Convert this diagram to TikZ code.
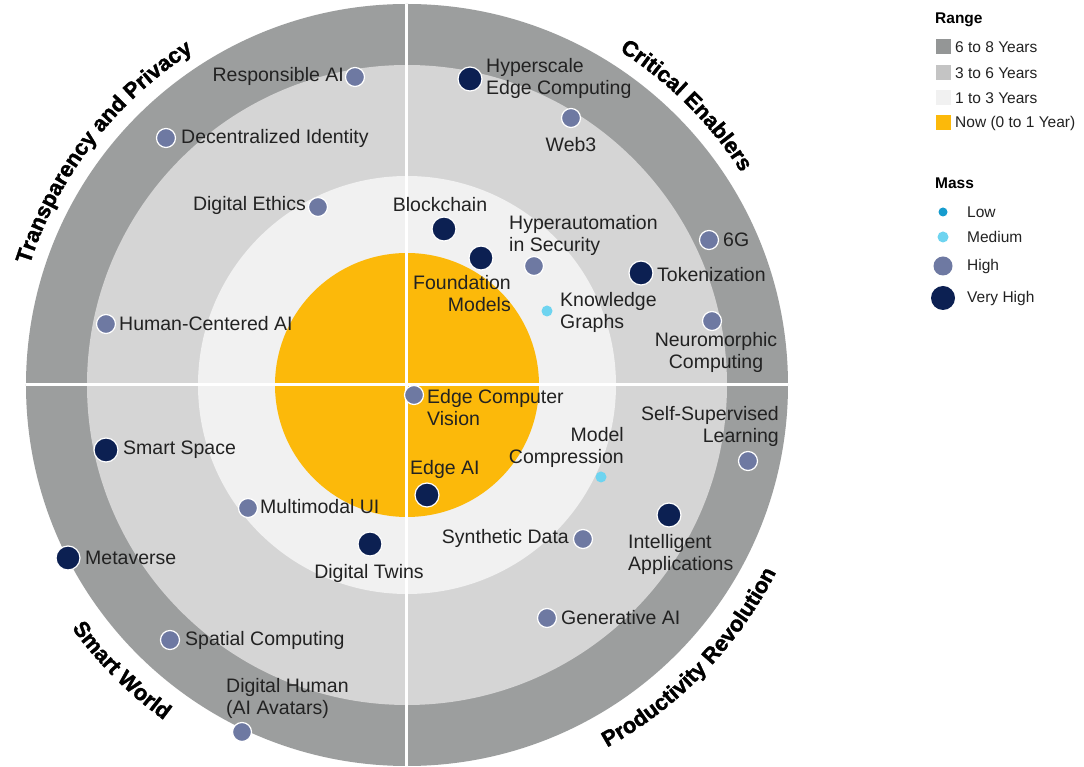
\documentclass[tikz,border=0pt]{standalone}
\usepackage{fontspec}
\setmainfont{Liberation Sans}
\newfontfamily\heavyfont[FakeBold=1.6]{Liberation Sans Bold}
\usetikzlibrary{decorations.text}

% ring and marker colours
\definecolor{ringfar}{RGB}{156,158,158}
\definecolor{ringmid}{RGB}{213,213,213}
\definecolor{ringnear}{RGB}{241,241,241}
\definecolor{ringnow}{RGB}{252,185,10}
\definecolor{massvh}{RGB}{12,32,82}
\definecolor{masshigh}{RGB}{110,121,162}
\definecolor{massmed}{RGB}{110,212,240}
\definecolor{masslow}{RGB}{22,156,206}
\definecolor{labeltext}{RGB}{34,34,34}

\newcommand{\titlefont}{\fontsize{22}{22}\selectfont\heavyfont}

\begin{document}
\begin{tikzpicture}[x=1pt,y=1pt,
  dot/.style={circle, inner sep=0pt, draw=white, line width=1.2pt},
  vhigh/.style={dot, fill=massvh, minimum size=24pt},
  high/.style={dot, fill=masshigh, minimum size=19pt},
  medium/.style={dot, fill=massmed, minimum size=11pt, draw=none},
  low/.style={dot, fill=masslow, minimum size=9pt, draw=none},
  lbl/.style={font=\fontsize{19.5}{22}\selectfont, text=labeltext, inner sep=0pt},
  legtext/.style={font=\fontsize{15.5}{18}\selectfont, text=labeltext, inner sep=0pt, anchor=west},
  leghead/.style={font=\fontsize{15.5}{18}\selectfont\bfseries, text=black, inner sep=0pt, anchor=west},
  swatch/.style={minimum size=15pt, inner sep=0pt},
  ringtitle/.style={decorate, decoration={text along path, text align=center, text color=black}}
]
\useasboundingbox (-407,-382) rectangle (677,385);
\fill[white] (-407,-382) rectangle (677,385);

% time horizon rings
\fill[ringfar]  (0,0) circle (381);
\fill[ringmid]  (0,0) circle (320);
\fill[ringnear] (0,0) circle (209);
\fill[ringnow]  (0,0) circle (132);

% quadrant dividers
\draw[white, line width=3pt] (-381,0) -- (381,0);
\draw[white, line width=3pt] (0,-381) -- (0,381);

% quadrant titles along the rim
\path[ringtitle, decoration={text={|\titlefont|Transparency and Privacy}}]
  (170:396) arc[start angle=170, end angle=115, radius=396];
\path[ringtitle, decoration={text={|\titlefont|Critical Enablers}}]
  (72:396) arc[start angle=72, end angle=18, radius=396];
\path[ringtitle, decoration={text={|\titlefont|Smart World}}]
  (198:414) arc[start angle=198, end angle=252, radius=414];
\path[ringtitle, decoration={text={|\titlefont|Productivity Revolution}}]
  (-72:414) arc[start angle=-72, end angle=-16, radius=414];

% Transparency and Privacy
\node[high] (respai) at (-52,308) {};
\node[lbl, anchor=east] (respailbl) at (-63,309) {Responsible AI};
\node[high] (decid) at (-241,247) {};
\node[lbl, anchor=west] (decidlbl) at (-226,247) {Decentralized Identity};
\node[high] (ethics) at (-89,178) {};
\node[lbl, anchor=east] (ethicslbl) at (-101,180) {Digital Ethics};
\node[high] (hcai) at (-301,61) {};
\node[lbl, anchor=west] (hcailbl) at (-288,61) {Human-Centered AI};

% Critical Enablers
\node[vhigh] (hyper) at (63,306) {};
\node[lbl, anchor=west, align=left] (hyperlbl) at (79,307) {Hyperscale\\Edge Computing};
\node[high] (web3) at (164,267) {};
\node[lbl] (web3lbl) at (164,240) {Web3};
\node[lbl] (blocklbl) at (33,180) {Blockchain};
\node[vhigh] (block) at (37,156) {};
\node[lbl, anchor=west, align=left] (hyperauto) at (102,150) {Hyperautomation\\in Security};
\node[high] (hyperautodot) at (127,119) {};
\node[vhigh] (found) at (74,127) {};
\node[lbl, anchor=east, align=right] (foundlbl) at (104,91) {Foundation\\Models};
\node[medium] (know) at (140,74) {};
\node[lbl, anchor=west, align=left] (knowlbl) at (153,73) {Knowledge\\Graphs};
\node[high] (sixg) at (302,145) {};
\node[lbl, anchor=west] (sixglbl) at (316,145) {6G};
\node[vhigh] (token) at (234,112) {};
\node[lbl, anchor=west] (tokenlbl) at (250,110) {Tokenization};
\node[high] (neuro) at (305,64) {};
\node[lbl, align=center] (neurolbl) at (309,33) {Neuromorphic\\Computing};

% Smart World
\node[vhigh] (space) at (-301,-65) {};
\node[lbl, anchor=west] (spacelbl) at (-284,-65) {Smart Space};
\node[high] (mmui) at (-159,-123) {};
\node[lbl, anchor=west] (mmuilbl) at (-147,-122) {Multimodal UI};
\node[vhigh] (meta) at (-339,-173) {};
\node[lbl, anchor=west] (metalbl) at (-322,-173) {Metaverse};
\node[vhigh] (twins) at (-37,-159) {};
\node[lbl] (twinslbl) at (-38,-188) {Digital Twins};
\node[high] (spatial) at (-237,-255) {};
\node[lbl, anchor=west] (spatiallbl) at (-222,-255) {Spatial Computing};
\node[lbl, anchor=west, align=left] (humanlbl) at (-181,-313) {Digital Human\\(AI Avatars)};
\node[high] (human) at (-165,-347) {};

% Productivity Revolution
\node[high] (ecv) at (7,-10) {};
\node[lbl, anchor=west, align=left] (ecvlbl) at (20,-23) {Edge Computer\\Vision};
\node[lbl, anchor=east, align=right] (complbl) at (217,-62) {Model\\Compression};
\node[medium] (comp) at (194,-92) {};
\node[lbl, anchor=west] (edgeailbl) at (3,-84) {Edge AI};
\node[vhigh] (edgeai) at (20,-110) {};
\node[lbl, anchor=east, align=right] (ssllbl) at (372,-41) {Self-Supervised\\Learning};
\node[high] (ssl) at (341,-76) {};
\node[high] (synth) at (176,-154) {};
\node[lbl, anchor=east] (synthlbl) at (162,-153) {Synthetic Data};
\node[vhigh] (intapp) at (262,-130) {};
\node[lbl, anchor=west, align=left] (intapplbl) at (221,-169) {Intelligent\\Applications};
\node[high] (genai) at (140,-233) {};
\node[lbl, anchor=west] (genailbl) at (154,-233) {Generative AI};

% legend: range
\node[leghead] (rangehead) at (528,365) {Range};
\node[swatch, fill=ringfar!95!black] (sw1) at (536,338) {};
\node[legtext] (sw1lbl) at (548,338) {6 to 8 Years};
\node[swatch, fill=ringmid!92!black] (sw2) at (536,312) {};
\node[legtext] (sw2lbl) at (548,312) {3 to 6 Years};
\node[swatch, fill=ringnear] (sw3) at (536,287) {};
\node[legtext] (sw3lbl) at (548,287) {1 to 3 Years};
\node[swatch, fill=ringnow] (sw4) at (536,262) {};
\node[legtext] (sw4lbl) at (548,262) {Now (0 to 1 Year)};

% legend: mass
\node[leghead] (masshead) at (528,202) {Mass};
\node[low, draw=none] (mlow) at (536,173) {};
\node[legtext] (mlowlbl) at (560,173) {Low};
\node[medium, draw=none] (mmed) at (536,148) {};
\node[legtext] (mmedlbl) at (560,148) {Medium};
\node[high, draw=none] (mhigh) at (536,119) {};
\node[legtext] (mhighlbl) at (560,119) {High};
\node[vhigh, draw=none] (mvh) at (536,87) {};
\node[legtext] (mvhlbl) at (560,87) {Very High};
\end{tikzpicture}
\end{document}
